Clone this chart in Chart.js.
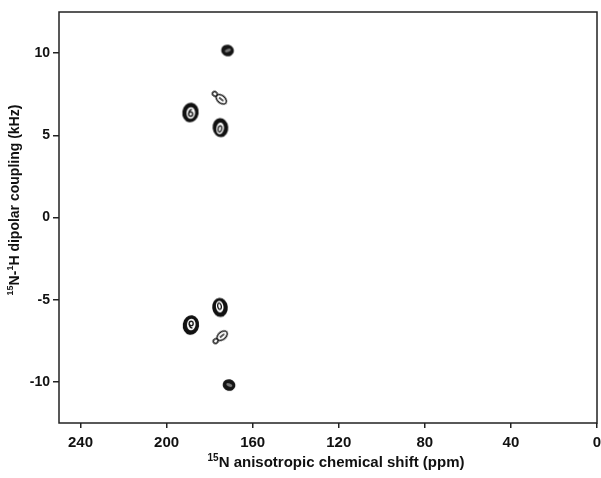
<!DOCTYPE html>
<html><head><meta charset="utf-8">
<script src="https://cdn.jsdelivr.net/npm/chart.js@4/dist/chart.umd.min.js"></script>
<style>html,body{margin:0;padding:0;background:#fff;overflow:hidden}#w{width:606px;height:478px;position:relative}</style>
</head><body><div id="w"><canvas id="c"></canvas></div>
<script>
// tick labels
const xTicks = [240, 200, 160, 120, 80, 40, 0];
const yTicks = [-10, -5, 0, 5, 10];
// peak positions (ppm, kHz)
const peakAShift = [171.7, 171.0];      // small dense peaks near ±10 kHz
const peakACoupling = [10.16, -10.19];
const peakBShift = [188.9, 188.7];      // large peaks near ±6.4 kHz
const peakBCoupling = [6.39, -6.54];
const peakCShift = [175.0, 175.2];      // large peaks near ±5.5 kHz
const peakCCoupling = [5.47, -5.47];
const peakDShift = [175.6, 175.2];      // weak elongated peaks near ±7.3 kHz
const peakDCoupling = [7.30, -7.30];

const xTitleParts = [["15", true], ["N anisotropic chemical shift (ppm)", false]];
const yTitleParts = [["15", true], ["N-", false], ["1", true], ["H dipolar coupling (kHz)", false]];

function pts(xs, ys) { return xs.map((x, i) => ({x: x, y: ys[i]})); }

function mk(w, h, fn) {
  const c = document.createElement('canvas');
  c.width = w; c.height = h;
  const g = c.getContext('2d');
  g.translate(w / 2, h / 2);
  fn(g);
  return c;
}
function ell(g, x, y, rx, ry, rot) {
  g.beginPath(); g.ellipse(x, y, rx, ry, rot || 0, 0, Math.PI * 2);
}
function styleA(flip) {
  return mk(16, 16, g => {
    g.fillStyle = '#151515';
    ell(g, 0, 0, 6.4, 5.8, 0.2); g.fill();
    g.fillStyle = '#7a7a7a';
    ell(g, 0.3, 0, 3.2, 1.5, flip ? 0.35 : -0.35); g.fill();
  });
}
function styleB(flip) {
  const s = flip ? -1 : 1;
  return mk(22, 24, g => {
    g.fillStyle = '#111';
    ell(g, 0, 0, 8.2, 9.8, 0.15); g.fill();
    g.fillStyle = '#fff';
    ell(g, 0.3, 0.5 * s, 4.3, 5.8, 0.1); g.fill();
    g.strokeStyle = '#111'; g.lineWidth = 1.4;
    ell(g, 0.2, 1.6 * s, 2, 2.2, 0); g.stroke();
    g.beginPath(); g.moveTo(-1.6, 1.2 * s); g.quadraticCurveTo(-1.6, -2.6 * s, 1.4, -3 * s); g.stroke();
    g.fillStyle = '#fff';
    ell(g, 0.2, 1.6 * s, 0.8, 0.8, 0); g.fill();
  });
}
function styleC(flip) {
  const s = flip ? -1 : 1;
  return mk(22, 24, g => {
    g.fillStyle = '#111';
    ell(g, 0, 0, 7.8, 9.6, -0.1); g.fill();
    g.fillStyle = '#fff';
    ell(g, -0.3, 0.8 * s, 3.8, 5.8, 0.15 * s); g.fill();
    g.strokeStyle = '#111'; g.lineWidth = 1.3;
    ell(g, -0.5, 1.2 * s, 1.8, 3.2, 0.2 * s); g.stroke();
  });
}
function styleD() {
  return mk(26, 16, g => {
    g.strokeStyle = '#222'; g.lineWidth = 1.5;
    ell(g, 2.8, 0, 6, 3.8, 0); g.stroke();
    ell(g, -5.6, 0, 2.5, 2.2, 0); g.stroke();
    g.beginPath(); g.moveTo(0, 0); g.lineTo(5.5, 0); g.stroke();
  });
}

function drawParts(ctx, parts, cx, cy, size, rot) {
  const big = 'bold ' + size + 'px "Liberation Sans", Arial, sans-serif';
  const small = 'bold ' + Math.round(size * 0.66) + 'px "Liberation Sans", Arial, sans-serif';
  let total = 0;
  const widths = parts.map(p => { ctx.font = p[1] ? small : big; const w = ctx.measureText(p[0]).width; total += w; return w; });
  ctx.save();
  ctx.translate(cx, cy);
  ctx.rotate(rot);
  ctx.fillStyle = '#111';
  ctx.textBaseline = 'alphabetic';
  ctx.textAlign = 'left';
  let x = -total / 2;
  const base = size * 0.36;
  parts.forEach((p, i) => {
    ctx.font = p[1] ? small : big;
    ctx.fillText(p[0], x, p[1] ? base - size * 0.4 : base);
    x += widths[i];
  });
  ctx.restore();
}

const framePlugin = {
  id: 'frame',
  afterDraw(chart) {
    const {ctx, chartArea: a} = chart;
    ctx.save();
    ctx.strokeStyle = '#222';
    ctx.lineWidth = 1.5;
    ctx.strokeRect(a.left, a.top, a.right - a.left, a.bottom - a.top);
    ctx.restore();
    drawParts(ctx, xTitleParts, 336, 462, 15, 0);
    drawParts(ctx, yTitleParts, 14, 200, 14, -Math.PI / 2);
  }
};

const tickFontX = {family: '"Liberation Sans", Arial, sans-serif', size: 15, weight: 'bold'};
const tickFontY = {family: '"Liberation Sans", Arial, sans-serif', size: 14, weight: 'bold'};

new Chart(document.getElementById('c'), {
  type: 'scatter',
  data: {
    datasets: [
      {data: pts(peakAShift, peakACoupling), pointStyle: [styleA(false), styleA(true)], pointRadius: 6},
      {data: pts(peakBShift, peakBCoupling), pointStyle: [styleB(false), styleB(true)], pointRadius: 8},
      {data: pts(peakCShift, peakCCoupling), pointStyle: [styleC(false), styleC(true)], pointRadius: 8},
      {data: pts(peakDShift, peakDCoupling), pointStyle: styleD(), pointRotation: [40, -40], pointRadius: 6}
    ]
  },
  options: {
    responsive: true,
    maintainAspectRatio: false,
    animation: false,
    layout: {padding: {top: 12, right: 0, left: 0, bottom: 0}},
    plugins: {legend: {display: false}, tooltip: {enabled: false}},
    scales: {
      x: {
        type: 'linear', min: 0, max: 250, reverse: true,
        afterBuildTicks: s => { s.ticks = xTicks.map(v => ({value: v})); },
        afterFit: s => { s.height = 55; s.paddingLeft = 0; s.paddingRight = 0; },
        border: {display: false},
        grid: {drawOnChartArea: false, drawTicks: true, tickLength: 5, color: '#222', lineWidth: 1.5},
        ticks: {font: tickFontX, color: '#111', padding: 6, maxRotation: 0, autoSkip: false}
      },
      y: {
        type: 'linear', min: -12.5, max: 12.5,
        afterBuildTicks: s => { s.ticks = yTicks.map(v => ({value: v})); },
        afterFit: s => { s.width = 59; s.paddingTop = 0; s.paddingBottom = 0; },
        border: {display: false},
        grid: {drawOnChartArea: false, drawTicks: true, tickLength: 6, color: '#222', lineWidth: 1.5},
        ticks: {font: tickFontY, color: '#111', padding: 3, autoSkip: false}
      }
    }
  },
  plugins: [framePlugin]
});
</script>
</body></html>
